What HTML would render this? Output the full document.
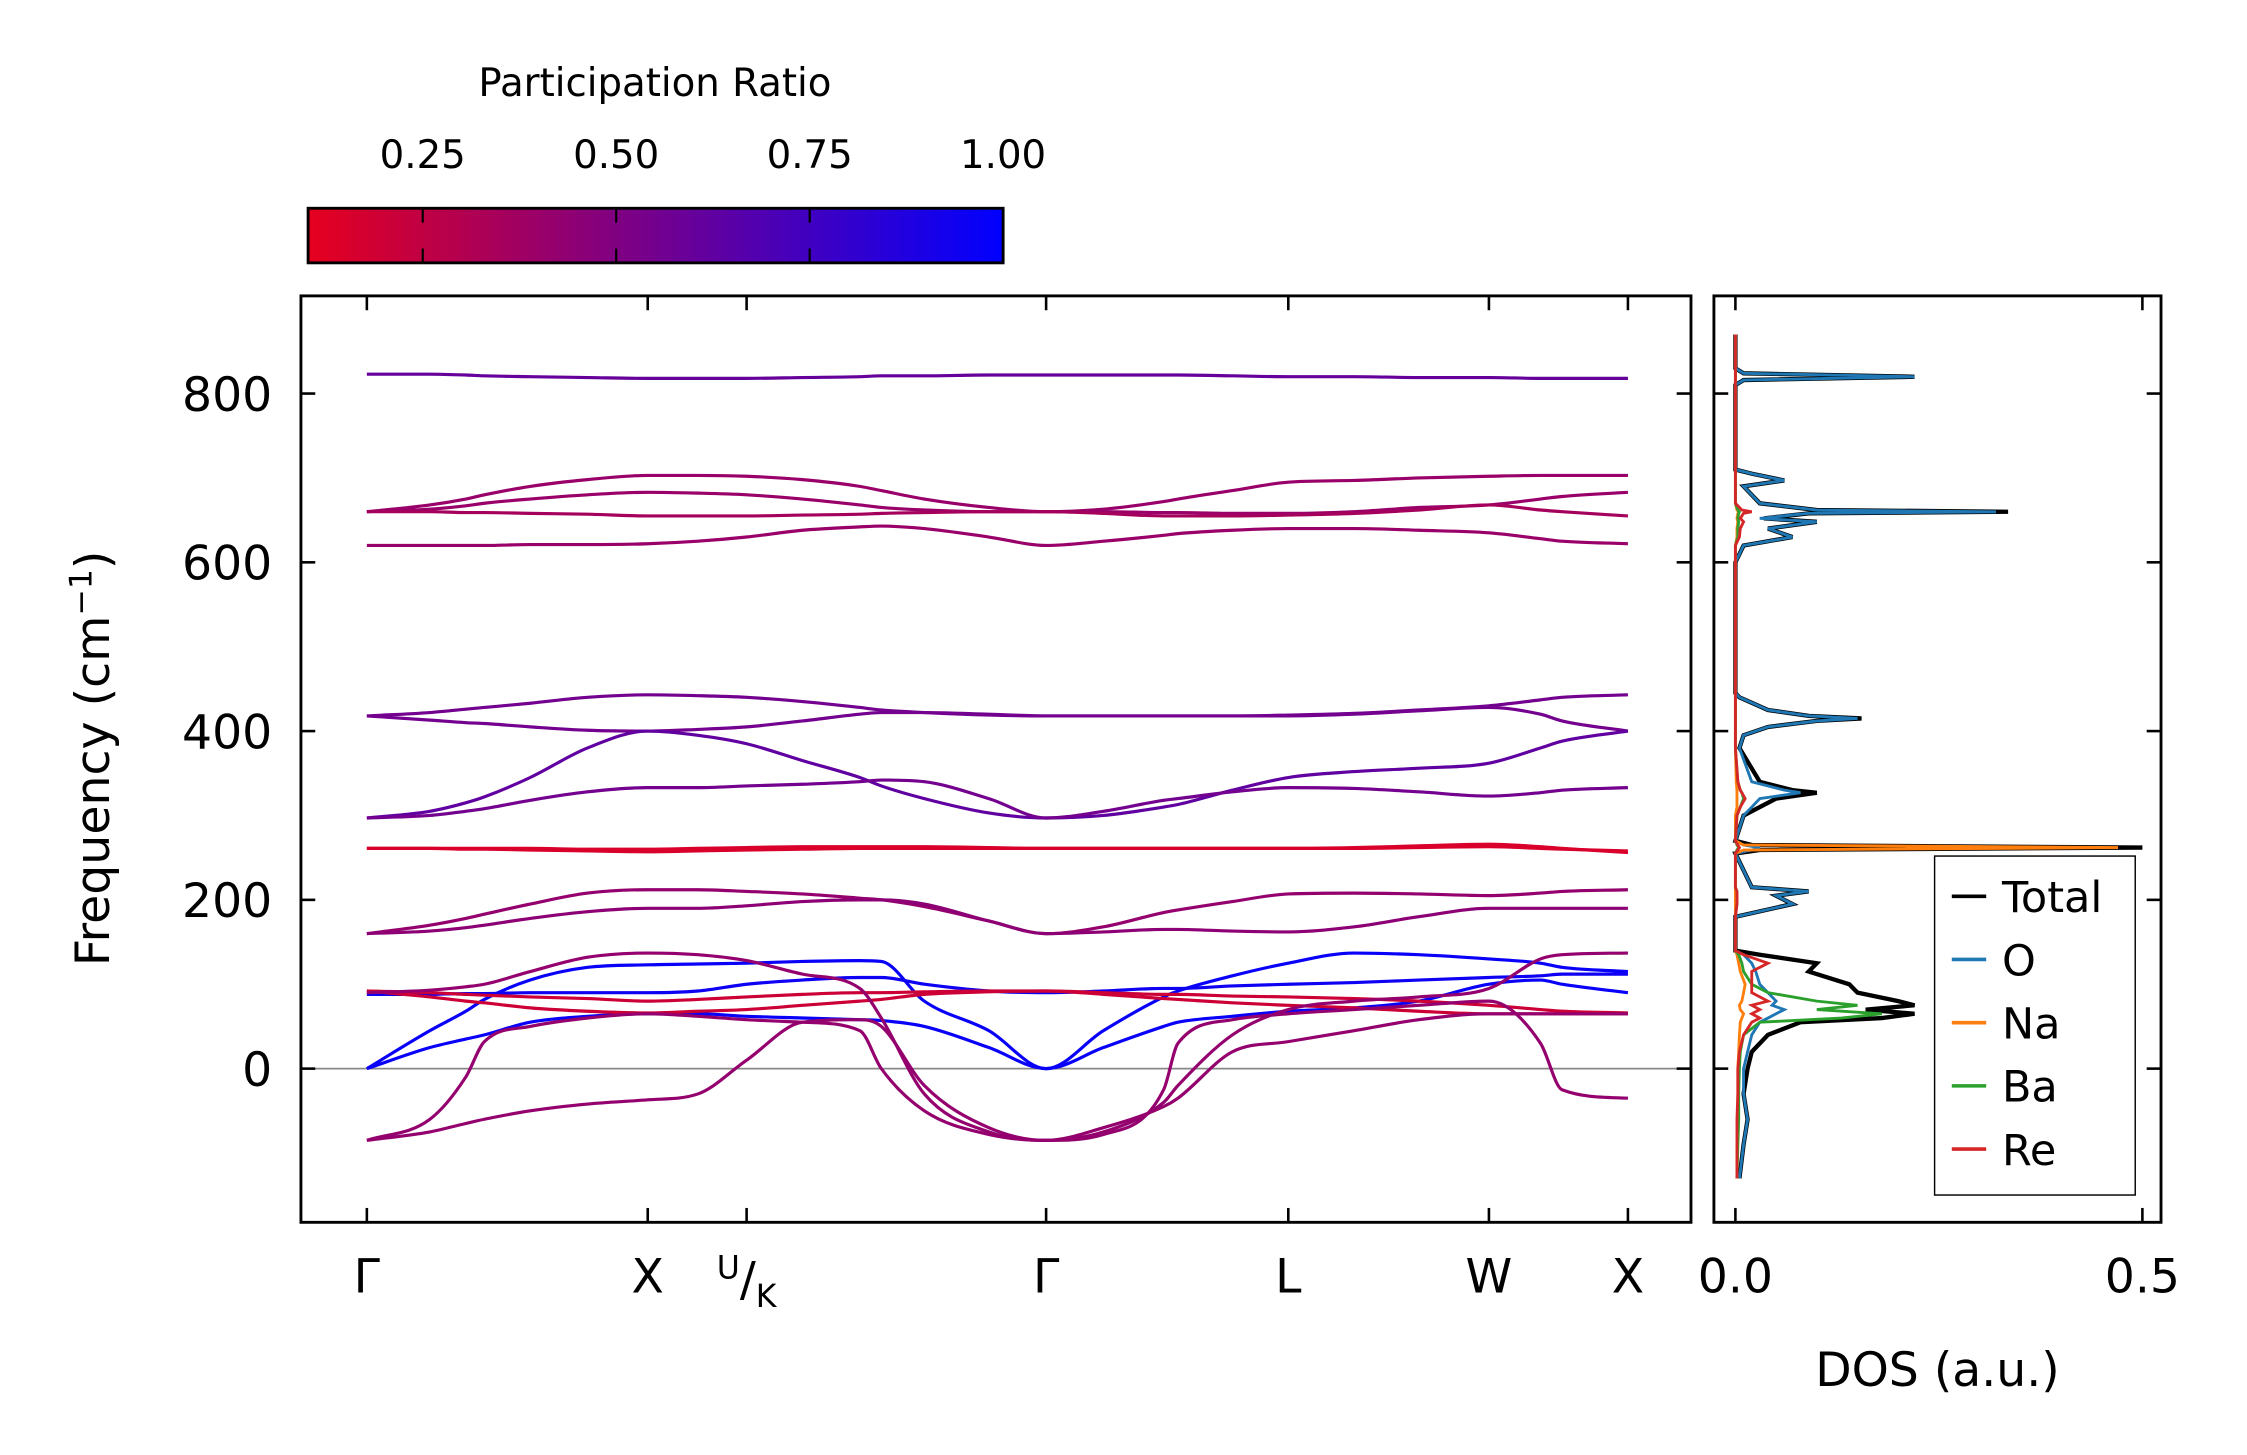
<!DOCTYPE html>
<html><head><meta charset="utf-8"><style>
html,body{margin:0;padding:0;background:#fff;}
svg{display:block;font-family:"DejaVu Sans","Liberation Sans",sans-serif;}
</style></head><body>
<svg id="chart" width="2247" height="1455" viewBox="0 0 1568 1013" preserveAspectRatio="none" xmlns="http://www.w3.org/2000/svg">
<defs>
<linearGradient id="cbgrad" x1="0" x2="1" y1="0" y2="0">
<stop offset="0" stop-color="rgb(230,0,30)"/><stop offset="1" stop-color="rgb(0,0,255)"/>
</linearGradient>
<clipPath id="bandclip"><rect x="210" y="206" width="970" height="645"/></clipPath>
<clipPath id="dosclip"><rect x="1196" y="206" width="312" height="645"/></clipPath>
</defs>
<g>
<text x="457" y="67" font-size="27" text-anchor="middle">Participation Ratio</text>
<rect x="215" y="145" width="485" height="38" fill="url(#cbgrad)" stroke="#000" stroke-width="2"/>
<g id="cbticks"></g>
</g>
<g id="bandaxes"></g>
<g id="dosaxes"></g>
<text transform="translate(76,528) rotate(-90)" font-size="33" text-anchor="middle">Frequency (cm<tspan dy="-12" font-size="22">−1</tspan><tspan dy="12">)</tspan></text>
<text x="1352" y="965" font-size="33" text-anchor="middle">DOS (a.u.)</text>
<g>
<rect x="1350" y="596" width="140" height="236" fill="#fff" stroke="#000" stroke-width="1"/>
<g id="legend"></g>
</g>
</svg>
<script>
// ---- data ----
const cbTicks = [0.25, 0.5, 0.75, 1.0];
const cbLabels = ["0.25", "0.50", "0.75", "1.00"];
const yTicks = [0, 200, 400, 600, 800];
const symLabels = ["Γ", "X", "U/K", "Γ", "L", "W", "X"];
const symK = [0, 196, 265, 474, 643, 783, 880];
const kGrid = [0,44,69,82,114,154,196,231,265,304,344,359,389,434,474,514,556,566,604,643,689,734,783,819,834,880];
const b820 = [823,823,822,821,820,819,818,818,818,819,820,821,821,822,822,822,822,822,821,820,820,819,819,818,818,818];
const bA = [660,668,675,680,690,698,703,703,702,698,690,685,675,665,660,663,672,675,685,695,697,700,702,703,703,703];
const bB = [660,663,667,670,675,680,683,682,680,675,668,665,662,660,660,660,659,659,658,658,660,665,668,675,678,683];
const bC = [620,620,620,620,621,621,622,625,630,638,642,643,640,630,620,625,632,634,638,640,640,638,635,628,625,622];
const bD = [660,660,659,659,658,657,655,655,655,656,657,658,659,660,660,658,655,655,655,656,658,662,668,662,660,655];
const bE = [418,422,426,428,433,440,443,442,440,435,428,425,422,419,418,418,418,418,418,419,421,425,430,437,440,443];
const bF = [418,413,410,409,405,401,400,402,405,412,420,422,422,420,418,418,418,418,418,418,420,424,428,420,412,400];
const bG = [297,305,315,322,345,380,400,395,385,365,345,335,320,303,297,300,310,313,330,345,352,356,362,380,388,400];
const bH = [297,300,305,308,318,328,333,333,335,337,340,342,340,320,297,305,318,320,328,333,332,328,323,327,330,333];
const bR1 = [261,261,260,260,259,258,257,258,259,260,261,261,261,261,261,261,261,261,261,261,261,262,263,261,260,258];
const bR2 = [261,261,261,261,261,260,260,261,262,263,263,263,263,262,261,261,261,261,261,261,262,264,266,263,261,256];
const bI = [160,170,178,183,195,208,212,212,210,207,202,200,192,175,160,168,185,188,198,207,208,207,205,208,210,212];
const bJ = [160,163,167,170,178,186,190,190,193,198,200,200,195,175,160,162,165,165,163,162,168,180,190,190,190,190];
const bK1 = [0,45,68,82,105,120,123,124,125,127,128,127,80,45,0,45,85,92,110,125,137,135,130,125,120,115];
const bK2 = [0,25,35,40,55,62,65,65,62,60,58,57,50,25,0,25,50,55,62,68,72,80,100,105,100,90];
const bK3 = [88,88,89,89,90,90,90,92,100,105,108,108,100,92,90,92,95,95,98,100,102,105,108,110,112,112];
const bO1 = [92,85,80,78,72,68,66,68,70,75,80,82,88,91,92,88,83,82,78,75,72,68,65,65,65,65];
const bO2 = [92,90,88,87,85,83,80,82,85,88,90,90,91,92,92,90,88,88,86,85,83,80,75,70,68,66];
const bIM1 = [-85,-60,-10,32,50,60,65,62,58,55,45,0,-50,-78,-85,-78,-25,30,58,65,70,75,80,30,-25,-35];
const bIM2 = [-85,-75,-65,-60,-50,-42,-37,-30,10,55,58,50,-20,-70,-85,-70,-45,-35,20,32,45,58,65,65,65,65];
const bIM3 = [90,93,97,100,115,132,137,135,128,112,95,60,-30,-75,-85,-75,-40,-20,40,70,80,85,95,130,135,137];
const bandList = [b820,bA,bB,bC,bD,bE,bF,bG,bH,bR1,bR2,bI,bJ,bK1,bK2,bK3,bO1,bO2,bIM1,bIM2,bIM3];
const bandNames = ["b820","bA","bB","bC","bD","bE","bF","bG","bH","bR1","bR2","bI","bJ","bK1","bK2","bK3","bO1","bO2","bIM1","bIM2","bIM3"];
const bandPR = [0.6,0.4,0.4,0.4,0.35,0.55,0.55,0.62,0.55,0.15,0.15,0.42,0.45,0.97,0.97,0.95,0.2,0.2,0.42,0.42,0.42];

const dosF = [-130,-90,-60,-30,0,20,40,55,60,65,70,75,80,90,100,115,125,135,140,180,195,205,210,215,255,259,262,265,270,300,310,320,327,330,340,380,395,405,412,415,418,425,440,445,600,620,630,640,648,652,658,660,662,670,690,697,705,710,810,816,820,824,830,870];
const dosTotal = [0.005,0.01,0.015,0.01,0.015, 0.02,0.04,0.08,0.18,0.22, 0.16,0.22,0.2,0.15,0.14, 0.09,0.1,0.03,0.0,0.0, 0.07,0.05,0.09,0.02,0.0, 0.03,0.5,0.02,0.0,0.01, 0.03,0.05,0.1,0.07,0.03, 0.005,0.01,0.04,0.1,0.155, 0.09,0.04,0.005,0.0,0.0, 0.01,0.07,0.04,0.1,0.035, 0.09,0.335,0.1,0.03,0.01, 0.06,0.02,0.0,0.0,0.01, 0.22,0.01,0.0,0.0];
const dosO = [0.005,0.01,0.015,0.01,0.01, 0.015,0.02,0.03,0.04,0.05, 0.06,0.045,0.05,0.04,0.03, 0.025,0.02,0.01,0.0,0.0, 0.07,0.05,0.09,0.02,0.0, 0.02,0.03,0.01,0.0,0.01, 0.02,0.03,0.08,0.06,0.02, 0.005,0.01,0.04,0.1,0.15, 0.09,0.04,0.005,0.0,0.0, 0.01,0.07,0.04,0.1,0.03, 0.09,0.32,0.1,0.03,0.01, 0.06,0.02,0.0,0.0,0.01, 0.22,0.01,0.0,0.0];
const dosNa = [0.002,0.002,0.003,0.003,0.003, 0.004,0.005,0.006,0.008,0.01, 0.006,0.005,0.008,0.01,0.012, 0.006,0.004,0.002,0.0,0.0, 0.0,0.0,0.0,0.0,0.0, 0.01,0.47,0.01,0.0,0.0, 0.002,0.002,0.002,0.002,0.001, 0.0,0.0,0.0,0.0,0.0, 0.0,0.0,0.0,0.0,0.0, 0.0,0.002,0.002,0.003,0.002, 0.003,0.004,0.002,0.0,0.0, 0.0,0.0,0.0,0.0,0.0, 0.0,0.0,0.0,0.0];
const dosBa = [0.002,0.003,0.004,0.004,0.005, 0.006,0.01,0.03,0.13,0.18, 0.1,0.15,0.1,0.04,0.02, 0.01,0.008,0.004,0.0,0.0, 0.002,0.002,0.002,0.0,0.0, 0.002,0.004,0.002,0.0,0.002, 0.006,0.01,0.008,0.006,0.003, 0.0,0.0,0.0,0.0,0.0, 0.0,0.0,0.0,0.0,0.0, 0.0,0.003,0.003,0.004,0.003, 0.004,0.005,0.003,0.0,0.0, 0.0,0.0,0.0,0.0,0.0, 0.0,0.0,0.0,0.0];
const dosRe = [0.002,0.002,0.002,0.003,0.003, 0.005,0.01,0.02,0.03,0.02, 0.03,0.02,0.04,0.02,0.02, 0.02,0.04,0.01,0.0,0.0, 0.002,0.002,0.002,0.0,0.0, 0.003,0.005,0.003,0.0,0.002, 0.006,0.012,0.008,0.006,0.003, 0.0,0.0,0.0,0.0,0.0, 0.0,0.0,0.0,0.0,0.0, 0.0,0.005,0.006,0.01,0.006, 0.01,0.02,0.008,0.0,0.0, 0.0,0.0,0.0,0.0,0.0, 0.0,0.0,0.0,0.0];
const dosSeries = [dosTotal, dosO, dosNa, dosBa, dosRe];
const dosNames = ["Total", "O", "Na", "Ba", "Re"];
const dosColors = ["#000000", "#1f77b4", "#ff7f0e", "#2ca02c", "#d62728"];
const dosTicks = [0.0, 0.5];
const dosTickLabels = ["0.0", "0.5"];

// ---- scales ----
const NS = "http://www.w3.org/2000/svg";
const AX = {l:210, r:1180, t:206, b:851};
const DX = {l:1196, r:1508};
const yS = f => 744 - f * 0.5875;
const kS = k => 256 + k;
const dS = v => 1211 + v * 568;
const cbS = v => 160 + v * 540;
function prColor(v){ const t = Math.max(0, Math.min(1, (v - 0.1) / 0.9)); return `rgb(${Math.round(230*(1-t))},0,${Math.round(30+225*t)})`; }
function mk(tag, attrs, parent){ const e = document.createElementNS(NS, tag); for (const a in attrs) e.setAttribute(a, attrs[a]); parent.appendChild(e); return e; }
function monoPath(xs, ys){
  const n = xs.length, d = [], m = [];
  for (let i=0;i<n-1;i++) d.push((ys[i+1]-ys[i])/(xs[i+1]-xs[i]));
  m.push(d[0]);
  for (let i=1;i<n-1;i++) m.push(d[i-1]*d[i] <= 0 ? 0 : (d[i-1]+d[i])/2);
  m.push(d[n-2]);
  for (let i=0;i<n-1;i++){ if (d[i]===0){m[i]=0;m[i+1]=0;continue;} const a=m[i]/d[i], b=m[i+1]/d[i]; const s=a*a+b*b; if (s>9){const t=3/Math.sqrt(s); m[i]=t*a*d[i]; m[i+1]=t*b*d[i];} }
  let p = `M${xs[0]},${ys[0]}`;
  for (let i=0;i<n-1;i++){ const h=(xs[i+1]-xs[i])/3; p += ` C${xs[i]+h},${ys[i]+m[i]*h} ${xs[i+1]-h},${ys[i+1]-m[i+1]*h} ${xs[i+1]},${ys[i+1]}`; }
  return p;
}
function txt(parent, x, y, s, size, anchor){ const t = mk('text', {x:x, y:y, 'font-size':size, 'text-anchor':anchor||'middle'}, parent); t.textContent = s; return t; }

// colorbar ticks
const cbt = document.getElementById('cbticks');
cbTicks.forEach((v,i)=>{
  const x = cbS(v);
  if (v < 1) {
    const l1 = mk('line', {x1:x, x2:x, y1:145, y2:155, stroke:'#000', 'stroke-width':1.5}, cbt);
    
    
    const l2 = mk('line', {x1:x, x2:x, y1:173, y2:183, stroke:'#000', 'stroke-width':1.5}, cbt);
    
    
  }
  const t = txt(cbt, x, 117, cbLabels[i], 27);
  
  
});

// band axes
const ba = document.getElementById('bandaxes');
const zl = mk('line', {x1:AX.l, x2:AX.r, y1:yS(0), y2:yS(0), stroke:'#888', 'stroke-width':1.2}, ba);


const bg = mk('g', {'clip-path':'url(#bandclip)', fill:'none', 'stroke-width':2.2}, ba);
bandList.forEach((arr, i)=>{
  const p = mk('path', {d: monoPath(kGrid.map(kS), arr.map(yS)), stroke: prColor(bandPR[i])}, bg);
  
  
});
const frame = mk('rect', {x:AX.l, y:AX.t, width:AX.r-AX.l, height:AX.b-AX.t, fill:'none', stroke:'#000', 'stroke-width':2}, ba);


yTicks.forEach(v=>{
  const y = yS(v);
  const a = mk('line', {x1:AX.l, x2:AX.l+10, y1:y, y2:y, stroke:'#000', 'stroke-width':1.8}, ba);
  
  
  const b = mk('line', {x1:AX.r-10, x2:AX.r, y1:y, y2:y, stroke:'#000', 'stroke-width':1.8}, ba);
  
  
  const t = txt(ba, AX.l-20, y+12, String(v), 33, 'end');
  
  
});
symK.forEach((k,i)=>{
  const x = kS(k);
  const a = mk('line', {x1:x, x2:x, y1:AX.t, y2:AX.t+10, stroke:'#000', 'stroke-width':1.8}, ba);
  
  
  const b = mk('line', {x1:x, x2:x, y1:AX.b-10, y2:AX.b, stroke:'#000', 'stroke-width':1.8}, ba);
  
  
  let t;
  if (symLabels[i] === 'U/K') {
    t = mk('text', {x:x, y:902, 'font-size':33, 'text-anchor':'middle'}, ba);
    t.innerHTML = '<tspan font-size="22" dy="-12">U</tspan><tspan dy="12">/</tspan><tspan font-size="22" dy="8">K</tspan>';
  } else {
    t = txt(ba, x, 900, symLabels[i], 33);
  }
  
  
});

// DOS axes
const da = document.getElementById('dosaxes');
const dg = mk('g', {'clip-path':'url(#dosclip)', fill:'none', 'stroke-width':2}, da);
dosSeries.forEach((arr, i)=>{
  const pts = dosF.map((f,j)=> dS(arr[j]).toFixed(1) + ',' + yS(f).toFixed(1)).join(' ');
  const p = mk('polyline', {points: pts, stroke: dosColors[i], 'stroke-width': i===0 ? 3 : 2}, dg);
  
  
});
const dframe = mk('rect', {x:DX.l, y:AX.t, width:DX.r-DX.l, height:AX.b-AX.t, fill:'none', stroke:'#000', 'stroke-width':2}, da);


yTicks.forEach(v=>{
  const y = yS(v);
  const a = mk('line', {x1:DX.l, x2:DX.l+10, y1:y, y2:y, stroke:'#000', 'stroke-width':1.8}, da);
  
  
  const b = mk('line', {x1:DX.r-10, x2:DX.r, y1:y, y2:y, stroke:'#000', 'stroke-width':1.8}, da);
  
  
});
dosTicks.forEach((v,i)=>{
  const x = dS(v);
  const a = mk('line', {x1:x, x2:x, y1:AX.t, y2:AX.t+10, stroke:'#000', 'stroke-width':1.8}, da);
  
  
  const b = mk('line', {x1:x, x2:x, y1:AX.b-10, y2:AX.b, stroke:'#000', 'stroke-width':1.8}, da);
  
  
  const t = txt(da, x, 900, dosTickLabels[i], 33);
  
  
});

// legend
const lg = document.getElementById('legend');
dosNames.forEach((n,i)=>{
  const y = 624 + i * 44;
  const l = mk('line', {x1:1362, x2:1386, y1:y, y2:y, stroke:dosColors[i], 'stroke-width':2.5}, lg);
  
  
  const t = txt(lg, 1397, y+11, n, 30, 'start');
  
  
});
</script>
</body></html>
